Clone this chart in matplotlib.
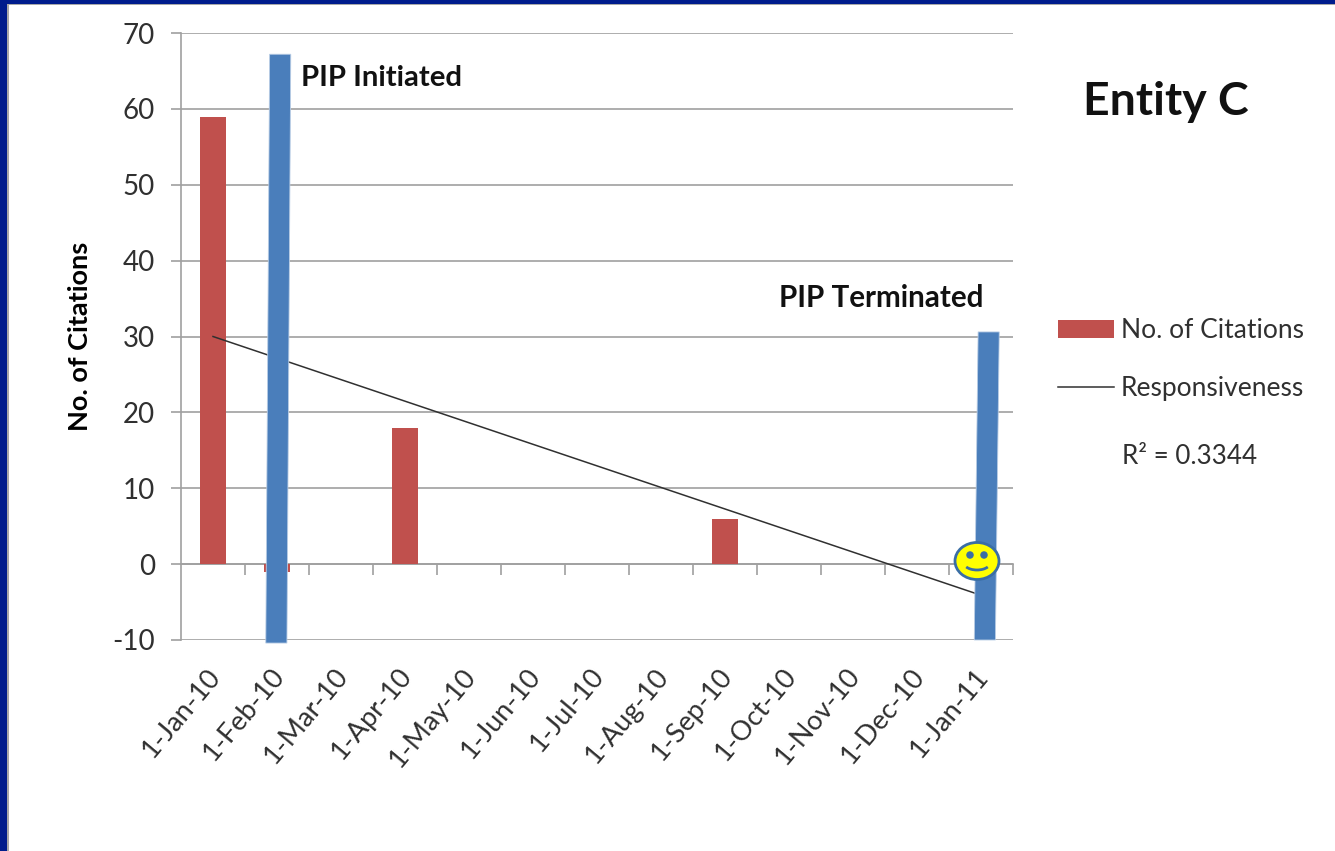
import matplotlib
matplotlib.use("Agg")
import matplotlib.pyplot as plt
from matplotlib.patches import Rectangle, Ellipse, Arc, Polygon
from matplotlib.lines import Line2D
from matplotlib.transforms import ScaledTranslation

plt.rcParams['font.family'] = ['Lato', 'DejaVu Sans']
plt.rcParams['axes.unicode_minus'] = False

months = ['1-Jan-10', '1-Feb-10', '1-Mar-10', '1-Apr-10', '1-May-10', '1-Jun-10', '1-Jul-10',
          '1-Aug-10', '1-Sep-10', '1-Oct-10', '1-Nov-10', '1-Dec-10', '1-Jan-11']
citations = [58.9, -1, 0, 18, 0, 0, 0, 0, 6, 0, 0, 0, 0]
trend_idx = [0, 12]
trend_val = [30, -4.1]
y_ticks = list(range(-10, 80, 10))

# Hand-drawn blue marker bars: category position, top value, bottom value
marker_pos = [1.02, 12.09]
marker_top = [67.2, 30.6]
marker_bottom = [-10.4, -10]
marker_lean = [0.03, 0.03]
marker_width = 0.33

W, H = 1335, 851
fig = plt.figure(figsize=(W / 100, H / 100), dpi=100, facecolor='white')
L, R, T, B = 181, 1013, 33, 640
ax = fig.add_axes([L / W, 1 - B / H, (R - L) / W, (B - T) / H])
x = list(range(len(months)))
GRAY = '#a0a0a0'
TXT = '#303030'

ax.set_xlim(-0.5, 12.5)
ax.set_ylim(-10, 70)
ax.bar(x, citations, width=0.41, color='#c0504d', zorder=3)
ax.plot(trend_idx, trend_val, color='#303030', lw=1.1, zorder=4)

for i, top, bot, lean in zip(marker_pos, marker_top, marker_bottom, marker_lean):
    w = marker_width / 2
    ax.add_patch(Polygon([(i - w + lean, top), (i + w + lean, top), (i + w - lean, bot), (i - w - lean, bot)],
                         closed=True, facecolor='#4a7ebb', edgecolor='#b9cde5', lw=0.6,
                         zorder=5, clip_on=False))

for s in ['top', 'right']:
    ax.spines[s].set_visible(False)
ax.spines['left'].set_color(GRAY)
ax.spines['left'].set_linewidth(1.2)
ax.spines['bottom'].set_position(('data', 0))
ax.spines['bottom'].set_color(GRAY)
ax.spines['bottom'].set_linewidth(1.2)

ax.set_yticks(y_ticks)
ax.yaxis.grid(True, color=GRAY, lw=1.2, zorder=1)
ax.set_axisbelow(True)
ax.tick_params(axis='y', length=7, width=1.2, color=GRAY, labelsize=20, labelcolor=TXT, pad=11.6)
ax.set_xticks([i + 0.5 for i in x])
ax.tick_params(axis='x', length=8, width=1.2, color=GRAY, labelbottom=False)
ax.set_ylabel('No. of Citations', fontsize=19.5, fontweight='bold', color='black', labelpad=15)

sec = ax.secondary_xaxis(0.0)
sec.spines['bottom'].set_visible(False)
sec.set_xticks(x)
sec.set_xticklabels(months, rotation=50, ha='right', va='top', rotation_mode='anchor',
                    fontsize=19.5, color=TXT)
sec.tick_params(axis='x', length=0, pad=17)
shift = ScaledTranslation(-7 / 100, 0, fig.dpi_scale_trans)
for lab in sec.get_xticklabels():
    lab.set_transform(lab.get_transform() + shift)

ax.text(1.38, 64.1, 'PIP Initiated', fontsize=21.2, fontweight='bold', color='#111111', va='center', zorder=6)
ax.text(8.84, 35.1, 'PIP Terminated', fontsize=21.3, fontweight='bold', color='#111111', va='center', zorder=6)

# overlay in pixel coordinates
ov = fig.add_axes([0, 0, 1, 1], facecolor='none')
ov.set_xlim(0, W)
ov.set_ylim(H, 0)
ov.axis('off')
ov.text(1166, 102, 'Entity C', fontsize=33.4, fontweight='bold', color='#111111', ha='center', va='center')
ov.text(1122, 456, 'R² = 0.3344', fontsize=18.7, color=TXT, va='center')

handles = [Rectangle((0, 0), 1, 1, facecolor='#c0504d'),
           Line2D([0], [0], color='#303030', lw=1.1)]
ov.legend(handles, ['No. of Citations', 'Responsiveness'], loc='upper left',
          bbox_to_anchor=(1058 / W, 1 - 318 / H), frameon=False, fontsize=19,
          labelcolor=TXT, handlelength=2.12, handleheight=0.65, handletextpad=0.27,
          labelspacing=1.25, borderpad=0, borderaxespad=0)

# smiley
ov.add_patch(Ellipse((977, 561), 44, 37, facecolor='#ffff00', edgecolor='#3a6ea5', lw=2, zorder=8))
ov.add_patch(Ellipse((970, 555), 7.5, 7.5, facecolor='#3a6ea5', edgecolor='none', zorder=9))
ov.add_patch(Ellipse((984, 555), 7.5, 7.5, facecolor='#3a6ea5', edgecolor='none', zorder=9))
ov.add_patch(Arc((977, 563), 26, 14, theta1=20, theta2=160, edgecolor='#3a6ea5', lw=2, zorder=9))

# slide border
ov.add_patch(Rectangle((0, 0), W, 3.5, facecolor='#001c8c', edgecolor='none', zorder=10))
ov.add_patch(Rectangle((0, 0), 7, H, facecolor='#001c8c', edgecolor='none', zorder=10))
ov.add_patch(Rectangle((7, 3.5), 1.5, H, facecolor='#a8a8a8', edgecolor='none', zorder=10))
ov.add_patch(Rectangle((7, 3.5), W, 1.2, facecolor='#a8a8a8', edgecolor='none', zorder=10))

fig.savefig('out.png', dpi=100)
